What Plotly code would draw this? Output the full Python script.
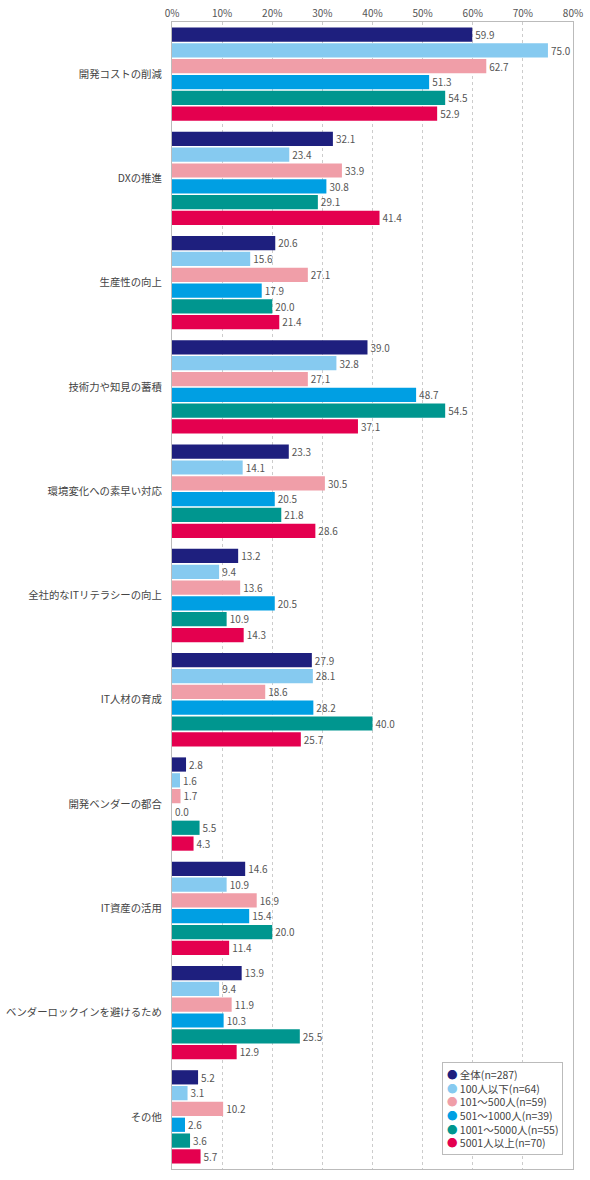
import plotly.graph_objects as go

categories = ["開発コストの削減", "DXの推進", "生産性の向上", "技術力や知見の蓄積",
              "環境変化への素早い対応", "全社的なITリテラシーの向上", "IT人材の育成",
              "開発ベンダーの都合", "IT資産の活用", "ベンダーロックインを避けるため", "その他"]

series_names = ["全体(n=287)", "100人以下(n=64)", "101～500人(n=59)",
                "501～1000人(n=39)", "1001～5000人(n=55)", "5001人以上(n=70)"]

v_all = [59.9, 32.1, 20.6, 39.0, 23.3, 13.2, 27.9, 2.8, 14.6, 13.9, 5.2]
v_100 = [75.0, 23.4, 15.6, 32.8, 14.1, 9.4, 28.1, 1.6, 10.9, 9.4, 3.1]
v_500 = [62.7, 33.9, 27.1, 27.1, 30.5, 13.6, 18.6, 1.7, 16.9, 11.9, 10.2]
v_1000 = [51.3, 30.8, 17.9, 48.7, 20.5, 20.5, 28.2, 0.0, 15.4, 10.3, 2.6]
v_5000 = [54.5, 29.1, 20.0, 54.5, 21.8, 10.9, 40.0, 5.5, 20.0, 25.5, 3.6]
v_5001 = [52.9, 41.4, 21.4, 37.1, 28.6, 14.3, 25.7, 4.3, 11.4, 12.9, 5.7]

values = [v_all, v_100, v_500, v_1000, v_5000, v_5001]
colors = ["#1e1f7e", "#86caf0", "#f09ea8", "#009fe3", "#00968f", "#e4004f"]

x_ticks = [0, 10, 20, 30, 40, 50, 60, 70, 80]
x_tick_labels = [f"{t}%" for t in x_ticks]

FONT = "Noto Sans CJK JP"

fig = go.Figure()
for name, vals, col in zip(series_names, values, colors):
    fig.add_trace(go.Bar(
        y=categories, x=vals, orientation="h", name=name,
        marker=dict(color=col, line=dict(width=0)),
        text=[f"{v:.1f}" for v in vals], textposition="outside",
        textfont=dict(size=10.5, color="#555555", family=FONT),
        cliponaxis=False, showlegend=False,
    ))

legend_lines = [f"<span style='color:{c}'>●</span> {n}"
                for n, c in zip(series_names, colors)]
fig.add_annotation(
    xref="paper", yref="paper", x=0.673, y=0.012, xanchor="left", yanchor="bottom",
    text="<br>".join(legend_lines), align="left", showarrow=False,
    font=dict(size=10.5, color="#444444", family=FONT),
    bgcolor="white", bordercolor="#bbbbbb", borderwidth=1, borderpad=4,
)

fig.update_layout(
    width=590, height=1180,
    margin=dict(l=172, r=17, t=22, b=11),
    barmode="group", bargap=0.09, bargroupgap=0.1,
    plot_bgcolor="white", paper_bgcolor="white",
    font=dict(family=FONT, size=11, color="#444444"),
    xaxis=dict(range=[0, 80], side="top", tickvals=x_ticks, ticktext=x_tick_labels,
               showgrid=True, gridcolor="#cccccc", griddash="dot", gridwidth=1,
               showline=True, linecolor="#bbbbbb", mirror=True, zeroline=False,
               ticks="", tickfont=dict(size=10, color="#555555"), automargin=False),
    yaxis=dict(autorange="reversed", showline=True, linecolor="#bbbbbb", mirror=True,
               ticks="", ticklabelstandoff=7, automargin=False,
               tickfont=dict(size=10.4, color="#444444")),
    showlegend=False,
)

fig.write_html("out.html", config={"displayModeBar": False},
               post_script="document.body.style.margin='0';document.body.style.overflow='hidden';")
